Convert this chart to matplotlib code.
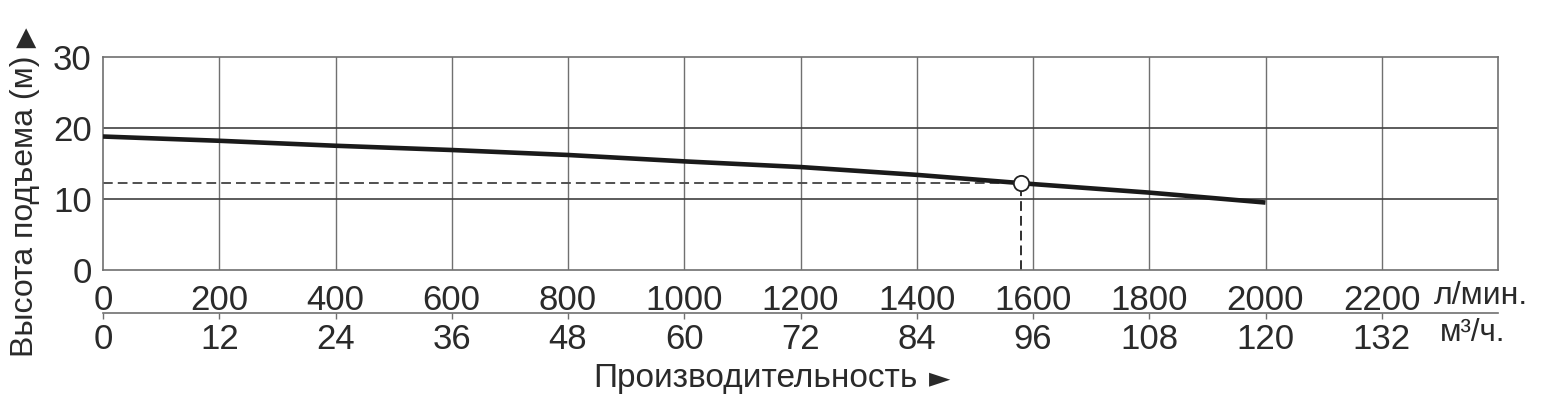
import matplotlib
matplotlib.use("Agg")
import matplotlib.pyplot as plt
import numpy as np

plt.rcParams['font.family'] = ['Liberation Sans', 'DejaVu Sans']

# Data
flow_lpm = [0, 200, 400, 600, 800, 1000, 1200, 1400, 1600, 1800, 2000]
head_m = [18.8, 18.2, 17.5, 16.9, 16.2, 15.3, 14.5, 13.4, 12.1, 10.9, 9.5]
op_flow = 1580
op_head = 12.2
x_ticks_lpm = [0, 200, 400, 600, 800, 1000, 1200, 1400, 1600, 1800, 2000, 2200]
x_ticks_m3h = [0, 12, 24, 36, 48, 60, 72, 84, 96, 108, 120, 132]
y_ticks = [0, 10, 20, 30]

W, H = 1551, 397
fig = plt.figure(figsize=(W / 100, H / 100), dpi=100)
ax = fig.add_axes([103 / W, 1 - 270 / H, (1498 - 103) / W, (270 - 57) / H])
ax.set_xlim(0, 2400)
ax.set_ylim(0, 30)

grid_c = '#707070'
txt_c = '#2a2a2a'
for xv in range(200, 2400, 200):
    ax.axvline(xv, color=grid_c, lw=1.0, zorder=1)
for yv in [10, 20]:
    ax.axhline(yv, color='#404040', lw=1.2, zorder=1)
for s in ax.spines.values():
    s.set_color(grid_c)
    s.set_linewidth(1.2)

ax.plot(flow_lpm, head_m, color='#1a1a1a', lw=3.3, solid_capstyle='butt',
        solid_joinstyle='round', zorder=3)
ax.plot([0, op_flow], [op_head, op_head], color='#505050', lw=1.4, ls=(0, (5, 2.6)), zorder=2)
ax.plot([op_flow, op_flow], [0, op_head], color='#303030', lw=1.4, ls=(0, (5, 2.6)), zorder=2)
ax.plot([op_flow], [op_head], 'o', ms=11, mfc='white', mec='#222222', mew=1.3, zorder=4)

ax.set_xticks(x_ticks_lpm)
ax.set_xticklabels([str(v) for v in x_ticks_lpm])
ax.set_yticks(y_ticks)
ax.tick_params(axis='both', length=0, labelsize=25, colors=txt_c)
ax.tick_params(axis='x', pad=10)
ax.tick_params(axis='y', pad=8)

sec = ax.secondary_xaxis((270 - 313) / (270 - 57),
                         functions=(lambda x: x * 0.06, lambda x: x / 0.06))
sec.set_xticks(x_ticks_m3h)
sec.set_xticklabels([str(v) for v in x_ticks_m3h])
sec.tick_params(axis='x', direction='out', length=4, width=1, color=grid_c,
                labelsize=25, pad=3, labelcolor=txt_c)
sec.spines['bottom'].set_color(grid_c)
sec.spines['bottom'].set_linewidth(1.2)

fig.text(1434 / W, 1 - 296 / H, 'л/мин.', fontsize=23, color=txt_c, va='center', ha='left')
fig.text(1440 / W, 1 - 333 / H, 'м³/ч.', fontsize=22.5, color=txt_c, va='center', ha='left')
fig.text(593 / W, 1 - 378 / H, 'Производительность', fontsize=24, color=txt_c,
         va='center', ha='left')
fig.text(950 / W, 1 - 378 / H, '►', fontsize=20, color=txt_c, va='center', ha='right',
         family='DejaVu Sans')
fig.text(25 / W, 1 - 357 / H, 'Высота подъема (м)', fontsize=23, color=txt_c,
         va='center', ha='left', rotation=90, rotation_mode='anchor')
fig.text(26 / W, 1 - 38 / H, '▲', fontsize=19, color=txt_c, va='center', ha='center',
         family='DejaVu Sans')

fig.savefig('out.png', dpi=100)
